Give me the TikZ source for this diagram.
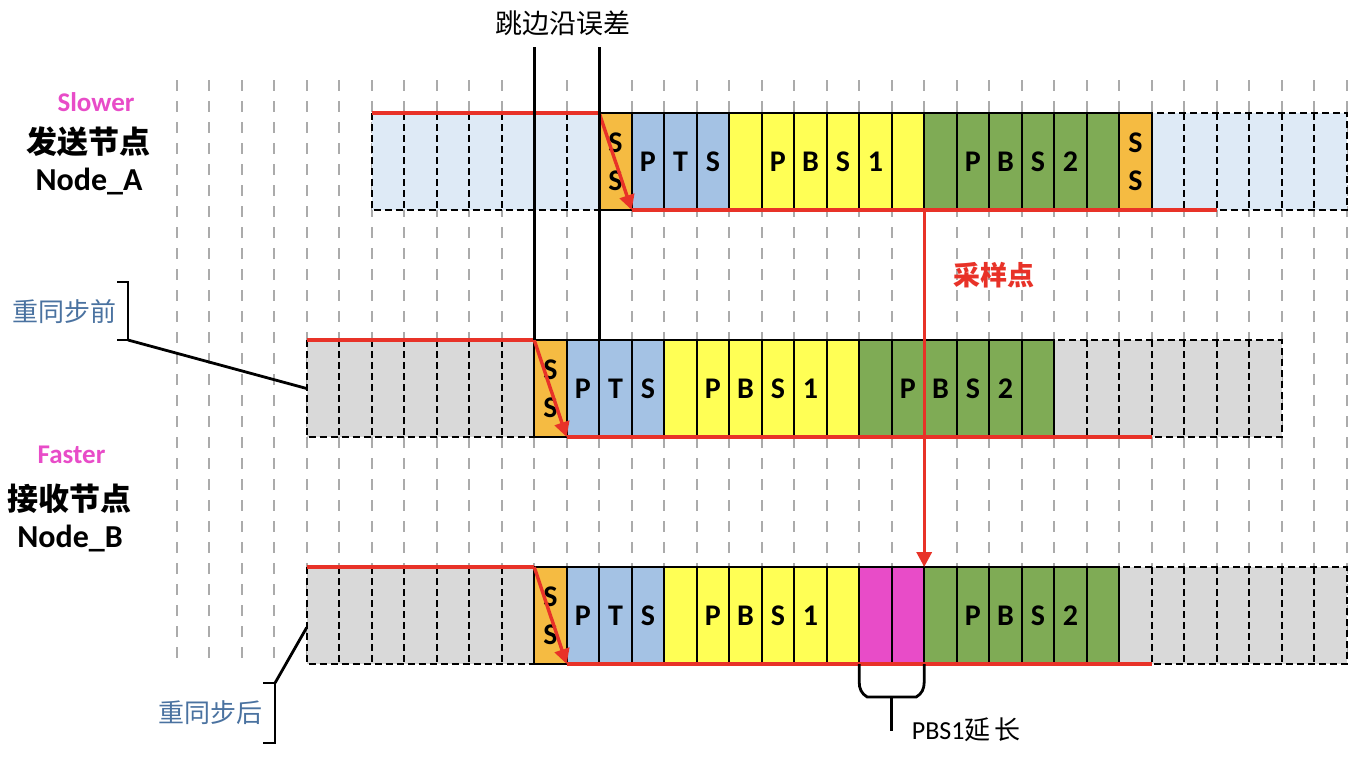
\documentclass[tikz,border=0pt]{standalone}
\usepackage{fontspec}
\setmainfont{Carlito}
\newfontfamily\cjk{Noto Sans CJK SC}
\usetikzlibrary{arrows.meta}
\definecolor{idleblue}{RGB}{222,234,246}
\definecolor{idlegray}{RGB}{217,217,217}
\definecolor{ssorange}{RGB}{245,187,66}
\definecolor{ptsblue}{RGB}{164,194,228}
\definecolor{pbsyellow}{RGB}{255,255,85}
\definecolor{pbsgreen}{RGB}{127,171,85}
\definecolor{extpink}{RGB}{232,76,200}
\definecolor{edgered}{RGB}{232,50,40}
\definecolor{noteblue}{RGB}{74,114,160}
\newcommand\slotx[1]{192.95+32.5*#1}
\tikzset{%
    slot/.style={minimum width=32.5pt, minimum height=97pt, inner sep=0pt,
        outer sep=0pt, align=center, font=\fontsize{30}{38}\selectfont\bfseries},
    busy/.style={slot, draw=black, line width=1.6pt, fill=#1},
    idle/.style={slot, fill=#1},
    idleline/.style={draw=black, line width=1.9pt, dash pattern=on 7pt off 4pt},
    slotline/.style={draw=black!33, line width=2.2pt, dash pattern=on 11pt off 10pt},
    redline/.style={draw=edgered, line width=3.4pt},
    redarrow/.style={redline, -{Triangle[length=15pt, width=15pt]}},
    markline/.style={draw=black, line width=2.8pt},
    role/.style={text=extpink, font=\fontsize{27}{27}\selectfont\bfseries},
    who/.style={font=\fontsize{32}{32}\selectfont\bfseries},
    note/.style={text=noteblue, font=\fontsize{26}{26}\selectfont\cjk},
}
\begin{document}
\begin{tikzpicture}[x=1pt, y=-1pt]
\useasboundingbox (0,0) rectangle (1368,780);
\foreach \i in {0,...,36}
    \draw[slotline] ({176.7+32.5*\i},80) -- ({176.7+32.5*\i},667);

\foreach \i in {6,...,12} \node[idle=idleblue] (a\i) at ({\slotx{\i}},161.5) {};
\foreach \i in {30,...,35} \node[idle=idleblue] (a\i) at ({\slotx{\i}},161.5) {};
\draw[idleline] (a6.north west) rectangle (a12.south east);
\draw[idleline] (a30.north west) rectangle (a35.south east);
\foreach \i in {7,...,12} \draw[idleline] (a\i.north west) -- (a\i.south west);
\foreach \i in {31,...,35} \draw[idleline] (a\i.north west) -- (a\i.south west);
\node[busy=ssorange] (a13) at ({\slotx{13}},161.5) {S\\S};
\foreach \i/\t in {14/P,15/T,16/S}
    \node[busy=ptsblue] (a\i) at ({\slotx{\i}},161.5) {\t};
\foreach \i/\t in {17/{},18/P,19/B,20/S,21/1,22/{}}
    \node[busy=pbsyellow] (a\i) at ({\slotx{\i}},161.5) {\t};
\foreach \i/\t in {23/{},24/P,25/B,26/S,27/2,28/{}}
    \node[busy=pbsgreen] (a\i) at ({\slotx{\i}},161.5) {\t};
\node[busy=ssorange] (a29) at ({\slotx{29}},161.5) {S\\S};

\foreach \i in {4,...,10} \node[idle=idlegray] (b\i) at ({\slotx{\i}},388.5) {};
\foreach \i in {27,...,33} \node[idle=idlegray] (b\i) at ({\slotx{\i}},388.5) {};
\draw[idleline] (b4.north west) rectangle (b10.south east);
\draw[idleline] (b27.north west) rectangle (b33.south east);
\foreach \i in {5,...,10} \draw[idleline] (b\i.north west) -- (b\i.south west);
\foreach \i in {28,...,33} \draw[idleline] (b\i.north west) -- (b\i.south west);
\node[busy=ssorange] (b11) at ({\slotx{11}},388.5) {S\\S};
\foreach \i/\t in {12/P,13/T,14/S}
    \node[busy=ptsblue] (b\i) at ({\slotx{\i}},388.5) {\t};
\foreach \i/\t in {15/{},16/P,17/B,18/S,19/1,20/{}}
    \node[busy=pbsyellow] (b\i) at ({\slotx{\i}},388.5) {\t};
\foreach \i/\t in {21/{},22/P,23/B,24/S,25/2,26/{}}
    \node[busy=pbsgreen] (b\i) at ({\slotx{\i}},388.5) {\t};

\foreach \i in {4,...,10} \node[idle=idlegray] (c\i) at ({\slotx{\i}},615.5) {};
\foreach \i in {29,...,35} \node[idle=idlegray] (c\i) at ({\slotx{\i}},615.5) {};
\draw[idleline] (c4.north west) rectangle (c10.south east);
\draw[idleline] (c29.north west) rectangle (c35.south east);
\foreach \i in {5,...,10} \draw[idleline] (c\i.north west) -- (c\i.south west);
\foreach \i in {30,...,35} \draw[idleline] (c\i.north west) -- (c\i.south west);
\node[busy=ssorange] (c11) at ({\slotx{11}},615.5) {S\\S};
\foreach \i/\t in {12/P,13/T,14/S}
    \node[busy=ptsblue] (c\i) at ({\slotx{\i}},615.5) {\t};
\foreach \i/\t in {15/{},16/P,17/B,18/S,19/1,20/{}}
    \node[busy=pbsyellow] (c\i) at ({\slotx{\i}},615.5) {\t};
\foreach \i in {21,22} \node[busy=extpink] (c\i) at ({\slotx{\i}},615.5) {};
\foreach \i/\t in {23/{},24/P,25/B,26/S,27/2,28/{}}
    \node[busy=pbsgreen] (c\i) at ({\slotx{\i}},615.5) {\t};

\draw[redline] (a6.north west) -- (a13.north west);
\draw[redarrow] (a13.north west) -- (a13.south east);
\draw[redline] (a13.south east) -- (a31.south east);
\draw[redline] (b4.north west) -- (b11.north west);
\draw[redarrow] (b11.north west) -- (b11.south east);
\draw[redline] (b11.south east) -- (b29.south east);
\draw[redline] (c4.north west) -- (c11.north west);
\draw[redarrow] (c11.north west) -- (c11.south east);
\draw[redline] (c11.south east) -- (c29.south east);

\node[font=\fontsize{27}{27}\selectfont\cjk] (jump) at (562.5,23) {跳边沿误差};
\coordinate (jtop) at (0,47);
\draw[markline] (b11.north west) -- (b11.north west |- jtop);
\draw[markline] (b13.north west) -- (b13.north west |- jtop);

\draw[redarrow] (a22.south east) -- (c22.north east);
\node[text=edgered, font=\fontsize{27}{27}\selectfont\cjk\bfseries] (sample) at (994,275) {采样点};

\node[role, anchor=base] (slow) at (96,111.7) {Slower};
\node[who, font=\fontsize{31}{31}\selectfont\cjk\bfseries] (sendA) at (89,141.5) {发送节点};
\node[who, anchor=base] (nodeA) at (89,190) {Node\_A};
\node[role, anchor=base] (fast) at (71.5,463) {Faster};
\node[who, font=\fontsize{31}{31}\selectfont\cjk\bfseries] (recvB) at (69,499) {接收节点};
\node[who, anchor=base] (nodeB) at (70,547) {Node\_B};

\node[note] (pre) at (64.5,311.5) {重同步前};
\coordinate (preb) at (128,340);
\draw[markline] (117,282) -| (preb) -- ++(-11,0);
\draw[markline] (preb) -- (b4.west);
\node[note] (post) at (210,712.5) {重同步后};
\coordinate (postb) at (275,683);
\draw[markline] (263,683) -| (275,743) -- ++(-12,0);
\draw[markline] (postb) -- ([yshift=-12pt]c4.west);

\draw[markline] (c21.south west) -- ++(0,18) to[out=-90, in=150] ++(8,15)
    -- ([xshift=-8pt, yshift=-33pt]c22.south east) to[out=30, in=-90] ++(8,-15)
    -- (c22.south east);
\draw[markline] ([yshift=-33pt]c21.south east) -- ++(0,34);
\node[anchor=west, inner sep=0pt, font=\fontsize{26}{26}\selectfont] (ext)
    at ([xshift=20pt, yshift=-66pt]c21.south east) {PBS1{\cjk 延\,长}};
\end{tikzpicture}
\end{document}
